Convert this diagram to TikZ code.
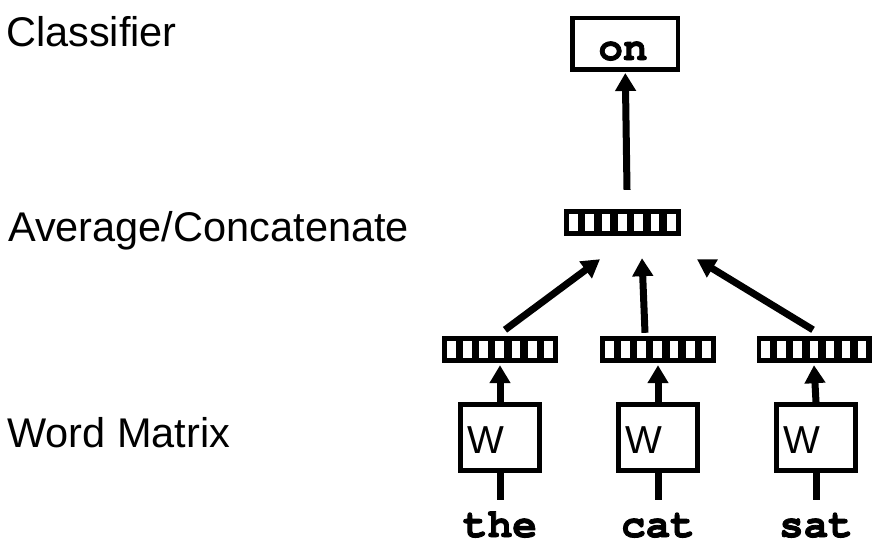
\documentclass[tikz,border=0pt]{standalone}
\usepackage{fontspec}
\setmainfont{Liberation Sans}
\newfontfamily\monob[FakeBold=2]{texgyrecursor-bold.otf}
\usetikzlibrary{arrows.meta,calc}
\newcommand\vcells[2]{%
  \foreach \i in {0,...,6}{%
    \fill[white] ($(#1.north west)+(5+\i*#2,5)$) rectangle ++(#2-7.5,17);}}
\begin{document}
\begin{tikzpicture}[x=1pt,y=-1pt,
  lbl/.style={anchor=base west,inner sep=0pt,font=\fontsize{41.5}{48}\selectfont},
  wlbl/.style={anchor=base west,inner sep=0pt,font=\fontsize{39}{46}\selectfont},
  word/.style={anchor=base,inner sep=0pt,text height=25pt,text depth=0pt,font=\monob\fontsize{41}{48}\selectfont},
  vecbox/.style={draw=none,fill=black,minimum height=27pt,inner sep=0pt},
  wbox/.style={draw,line width=5pt,minimum width=79pt,minimum height=66pt,inner sep=0pt},
  outbox/.style={draw,line width=4.5pt,minimum width=105.5pt,minimum height=51.5pt,inner sep=0pt},
  arr/.style={line width=7pt,-{Triangle[length=18pt,width=20pt]}},
  stem/.style={line width=7pt}
]
\useasboundingbox (0,0) rectangle (875,551);

% left labels
\node[lbl] (lclass) at (6,47) {Classifier};
\node[lbl] (lavg) at (8,241) {Average/Concatenate};
\node[lbl] (lword) at (7,447) {Word Matrix};

% classifier output
\node[outbox] (on) at (625.3,44) {};
\node[word] (ontext) at (623,60) {on};

% averaged vector
\node[vecbox,minimum width=117pt] (avg) at (622.5,222.5) {};
\vcells{avg}{16.357}

% word vectors
\node[vecbox,minimum width=116pt] (v1) at (500,349.5) {};
\node[vecbox,minimum width=116pt] (v2) at (658,349.5) {};
\node[vecbox,minimum width=115pt] (v3) at (814,349.5) {};
\vcells{v1}{16.21}
\vcells{v2}{16.21}
\vcells{v3}{16.07}

% word matrices
\node[wbox] (w1) at (500,437.5) {};
\node[wbox] (w2) at (658,437.5) {};
\node[wbox] (w3) at (816,437.5) {};
\node[wlbl] (W1) at ($(w1.center)+(-33,15.5)$) {W};
\node[wlbl] (W2) at ($(w2.center)+(-33,15.5)$) {W};
\node[wlbl] (W3) at ($(w3.center)+(-33,15.5)$) {W};

% words
\node[word] (the) at (500,537) {the};
\node[word] (cat) at (658,537) {cat};
\node[word] (sat) at (816,537) {sat};

% connectors
\draw[stem] ($(the.north)+(0,-12)$) -- (w1.south);
\draw[stem] ($(cat.north)+(0,-12)$) -- (w2.south);
\draw[stem] ($(sat.north)+(0,-12)$) -- (w3.south);

\draw[arr] (w1.north) -- ($(v1.south)+(0,2)$);
\draw[arr] (w2.north) -- ($(v2.south)+(0,2)$);
\draw[arr] (w3.north) -- ($(v3.south)+(0,2)$);

\draw[arr] ($(v1.north)+(5,-6)$) -- ($(avg.south)+(-22.5,23)$);
\draw[arr] ($(v2.north)+(-13,-3)$) -- ($(avg.south)+(19.5,22)$);
\draw[arr] ($(v3.north)+(-1,-6)$) -- ($(avg.south)+(74.5,23)$);

\draw[arr] ($(avg.north)+(4.5,-19)$) -- ($(on.south)+(0,1)$);
\end{tikzpicture}
\end{document}
